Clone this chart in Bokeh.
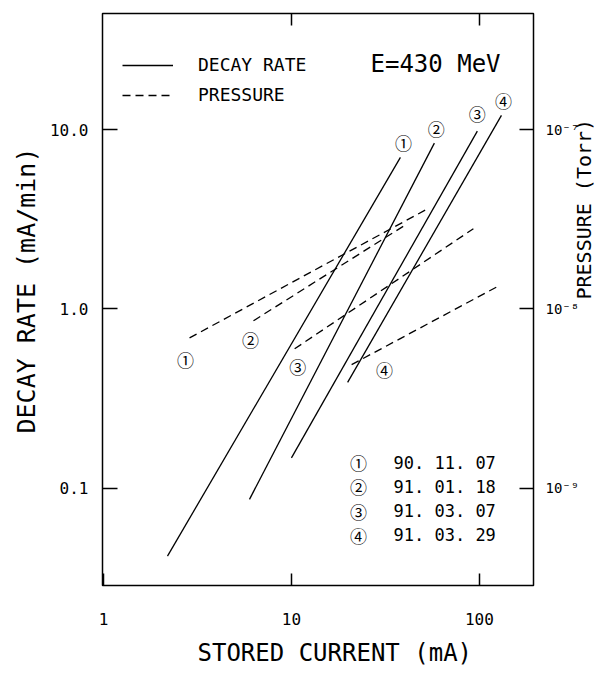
import math
from bokeh.plotting import figure
from bokeh.models import (Range1d, LogScale, LogAxis, FixedTicker, CustomJSTickFormatter,
                          Label, Legend, LegendItem, Title)
from bokeh.core.properties import value
from bokeh.embed import file_html
from bokeh.resources import INLINE

# ---------------- data ----------------
run_marks = ["①", "②", "③", "④"]
run_dates = ["90. 11. 07", "91. 01. 18", "91. 03. 07", "91. 03. 29"]

# decay rate (mA/min) vs stored current (mA) - solid lines
decay_current_1 = [2.19, 38.0]
decay_rate_1 = [0.042, 7.0]
decay_current_2 = [5.98, 57.6]
decay_rate_2 = [0.087, 8.4]
decay_current_3 = [10.0, 97.5]
decay_rate_3 = [0.148, 9.8]
decay_current_4 = [19.9, 131.0]
decay_rate_4 = [0.39, 12.0]

# pressure (Torr) vs stored current (mA) - dashed lines
press_current_1 = [2.87, 51.6]
pressure_1 = [6.9e-9, 3.56e-8]
press_current_2 = [6.28, 40.4]
pressure_2 = [8.6e-9, 2.94e-8]
press_current_3 = [10.4, 92.9]
pressure_3 = [6.0e-9, 2.8e-8]
press_current_4 = [20.9, 126.0]
pressure_4 = [4.9e-9, 1.34e-8]

x_ticks = [1, 10, 100]
y_ticks = [0.1, 1, 10]
p_ticks = [1e-9, 1e-8, 1e-7]

x_title = "STORED CURRENT (mA)"
y_title = "DECAY RATE (mA/min)"
p_title = "PRESSURE (Torr)"
energy_note = "E=430 MeV"

# ---------------- figure ----------------
X_MIN, X_MAX = 0.988, 194.0
Y_MIN, Y_MAX = 0.0288, 44.3
P_FACTOR = 1e-8

MONO = "DejaVu Sans Mono"
CJK = "Noto Sans CJK JP"

p = figure(width=616, height=679, x_axis_type="log", y_axis_type="log",
           x_range=Range1d(X_MIN, X_MAX), y_range=Range1d(Y_MIN, Y_MAX),
           output_backend="svg", toolbar_location=None,
           min_border_left=102, min_border_right=83, min_border_top=13, min_border_bottom=94,
           background_fill_color="white", border_fill_color="white")
p.extra_y_ranges = {"press": Range1d(Y_MIN * P_FACTOR, Y_MAX * P_FACTOR)}
p.extra_y_scales = {"press": LogScale()}
p.grid.visible = False
p.outline_line_color = "black"
p.outline_line_width = 1.5


def style_axis(ax, tick_in):
    ax.axis_line_color = None
    ax.major_tick_in = tick_in
    ax.major_tick_out = 0
    ax.minor_tick_in = 0
    ax.minor_tick_out = 0
    ax.major_tick_line_width = 1.5
    ax.major_tick_line_color = "black"
    ax.major_label_text_font = MONO
    ax.major_label_text_font_size = "16px"
    ax.major_label_text_color = "black"


bottom = p.xaxis[0]
style_axis(bottom, 12)
bottom.ticker = FixedTicker(ticks=x_ticks, minor_ticks=[])
bottom.formatter = CustomJSTickFormatter(code="return tick.toFixed(0);")
bottom.major_label_standoff = 27

left = p.yaxis[0]
style_axis(left, 15)
left.ticker = FixedTicker(ticks=y_ticks, minor_ticks=[])
left.formatter = CustomJSTickFormatter(code="return tick.toFixed(1);")
left.major_label_standoff = 14

right = LogAxis(y_range_name="press", ticker=FixedTicker(ticks=p_ticks, minor_ticks=[]),
                formatter=CustomJSTickFormatter(code=r"""
const e = Math.round(Math.log10(tick));
const sup = {"-": "\u207b", "0": "\u2070", "1": "\u00b9", "2": "\u00b2", "3": "\u00b3",
             "4": "\u2074", "5": "\u2075", "6": "\u2076", "7": "\u2077", "8": "\u2078", "9": "\u2079"};
return "10" + String(e).split("").map(c => sup[c]).join("");
"""))
style_axis(right, 14)
right.major_label_text_font_size = "14px"
right.major_label_standoff = 12
right.axis_label = p_title
right.axis_label_text_font = MONO
right.axis_label_text_font_size = "20px"
right.axis_label_text_font_style = "normal"
right.axis_label_text_color = "black"
right.axis_label_standoff = 2
if "axis_label_orientation" in right.properties():
    right.axis_label_orientation = math.pi / 2
p.add_layout(right, "right")

top = LogAxis(ticker=FixedTicker(ticks=[10, 100], minor_ticks=[]))
style_axis(top, 12)
top.major_label_text_font_size = "1px"
top.major_label_text_alpha = 0
top.major_label_standoff = 0
p.add_layout(top, "above")

# axis titles
p.add_layout(Title(text=x_title, align="left", offset=95, standoff=18,
                   text_font=MONO, text_font_size="24px", text_font_style="normal",
                   text_color="black"), "below")
p.add_layout(Title(text=y_title, align="left", offset=152, standoff=12,
                   text_font=MONO, text_font_size="25px", text_font_style="normal",
                   text_color="black"), "left")

# ---------------- lines ----------------
solid = []
for xs, ys in [(decay_current_1, decay_rate_1), (decay_current_2, decay_rate_2),
               (decay_current_3, decay_rate_3), (decay_current_4, decay_rate_4)]:
    solid.append(p.line(x=xs, y=ys, line_color="black", line_width=1.3))

dashed = []
for xs, ys in [(press_current_1, pressure_1), (press_current_2, pressure_2),
               (press_current_3, pressure_3), (press_current_4, pressure_4)]:
    dashed.append(p.line(x=xs, y=ys, y_range_name="press", line_color="black",
                         line_width=1.3, line_dash="8 5"))

# circled run numbers at the line ends
decay_ends_x = [c[-1] for c in (decay_current_1, decay_current_2, decay_current_3, decay_current_4)]
decay_ends_y = [r[-1] for r in (decay_rate_1, decay_rate_2, decay_rate_3, decay_rate_4)]
p.text(x=decay_ends_x, y=decay_ends_y, text=run_marks,
       x_offset=[3, 2, 0, 2], y_offset=[-15, -15, -18, -15],
       text_align="center", text_baseline="middle",
       text_font=value(CJK), text_font_size="17px", text_color="black")

press_starts_x = [c[0] for c in (press_current_1, press_current_2, press_current_3, press_current_4)]
press_starts_y = [q[0] for q in (pressure_1, pressure_2, pressure_3, pressure_4)]
p.text(x=press_starts_x, y=press_starts_y, text=run_marks, y_range_name="press",
       x_offset=[-4, -3, 3, 33], y_offset=[22, 19, 18, 5],
       text_align="center", text_baseline="middle",
       text_font=value(CJK), text_font_size="17px", text_color="black")

# ---------------- legend ----------------
legend = Legend(items=[LegendItem(label="DECAY RATE", renderers=[solid[0]]),
                       LegendItem(label="PRESSURE", renderers=[dashed[0]])],
                location=(20, 480), glyph_width=51, glyph_height=20, label_height=20,
                label_standoff=25, spacing=9, padding=0, margin=0,
                border_line_color=None, background_fill_alpha=0,
                label_text_font=MONO, label_text_font_size="18px", label_text_color="black")
p.add_layout(legend)

p.add_layout(Label(x=268, y=522, x_units="screen", y_units="screen", text=energy_note,
                   text_baseline="middle", text_font=MONO, text_font_size="24px",
                   text_color="black"))

for i, (mark, date) in enumerate(zip(run_marks, run_dates)):
    yy = 123 - 24.3 * i
    p.add_layout(Label(x=256, y=yy, x_units="screen", y_units="screen", text=mark,
                       text_align="center", text_baseline="middle", text_font=CJK,
                       text_font_size="17px", text_color="black"))
    p.add_layout(Label(x=291, y=yy, x_units="screen", y_units="screen", text=date,
                       text_align="left", text_baseline="middle", text_font=MONO,
                       text_font_size="17px", text_color="black"))

open("out.html", "w").write(file_html(p, INLINE))
